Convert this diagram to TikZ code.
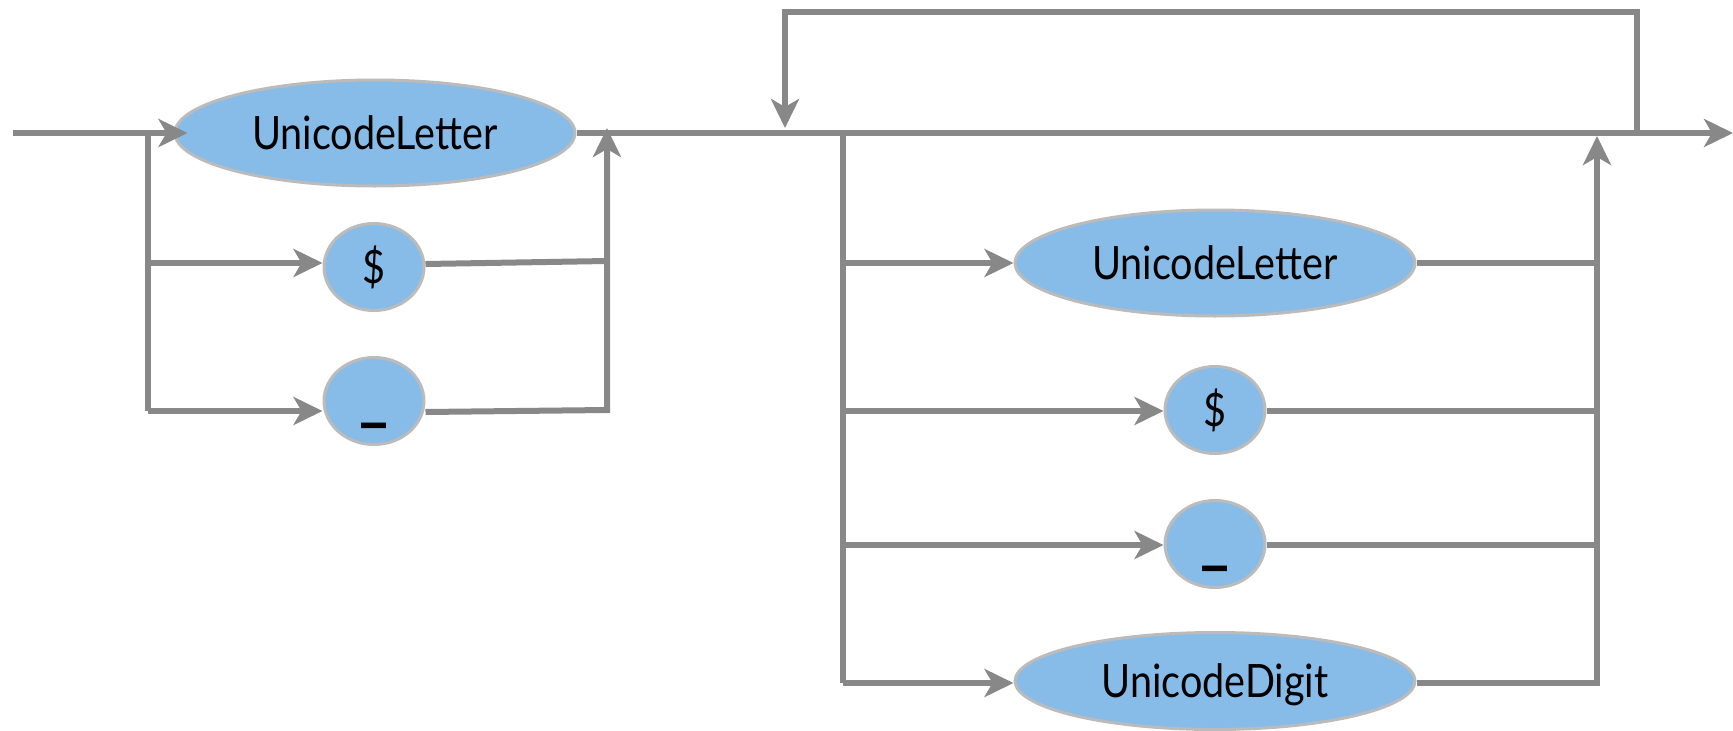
\documentclass[tikz,border=0pt]{standalone}
\usepackage{fontspec}
\setmainfont[FakeStretch=0.86]{Lato}
\usetikzlibrary{shapes.geometric,arrows.meta}
\definecolor{linegray}{HTML}{888888}
\definecolor{bordergray}{HTML}{BBBBBB}
\definecolor{fillblue}{HTML}{88BCE8}
\newcommand{\wideunderscore}{\raisebox{2pt}{\scalebox{1.6}[2]{\_}}}
\begin{document}
\begin{tikzpicture}[x=1pt,y=-1pt,
  term/.style={ellipse, draw=bordergray, line width=3pt, fill=fillblue, inner sep=0pt,
    font=\fontsize{46}{50}\selectfont, text height=33pt, text depth=0pt},
  wideterm/.style={term, minimum width=400pt, minimum height=106pt},
  smallterm/.style={term, minimum width=100pt, minimum height=87pt},
  conn/.style={draw=linegray, line width=6pt},
  arr/.style={conn, -{Stealth[length=29pt,width=28pt,inset=8pt]}}]
\useasboundingbox (0,0) rectangle (1733,731);
% nodes
\node[wideterm] (l1) at (375,133) {UnicodeLetter};
\node[smallterm] (d1) at (374,267) {\$};
\node[smallterm] (u1) at (374,401) {\wideunderscore};
\node[wideterm] (l2) at (1215,263) {UnicodeLetter};
\node[smallterm] (d2) at (1215,410) {\$};
\node[smallterm] (u2) at (1215,544) {\wideunderscore};
\node[wideterm, minimum height=97pt] (dg) at (1215,681) {UnicodeDigit};
% coordinates
\coordinate (start) at (13,133);
\coordinate (s1) at (148,133);
\coordinate (s1d) at (148,263);
\coordinate (s1b) at (148,411);
\coordinate (j1) at (607,128);
\coordinate (j1d) at (607,261);
\coordinate (j1b) at (607,410);
\coordinate (lp1) at (785,128);
\coordinate (lp1t) at (785,11.5);
\coordinate (lp2t) at (1637,11.5);
\coordinate (lp2) at (1637,133);
\coordinate (s2) at (843,133);
\coordinate (s2l) at (843,263);
\coordinate (s2d) at (843,411);
\coordinate (s2u) at (843,545);
\coordinate (s2b) at (843,683);
\coordinate (j2) at (1597,136);
\coordinate (j2l) at (1597,263);
\coordinate (j2d) at (1597,411);
\coordinate (j2u) at (1597,545);
\coordinate (j2b) at (1597,683);
\coordinate (end) at (1733,133);
% left group
\draw[arr] (start) -- ([xshift=14pt]l1.west);
\draw[conn] (s1) -- (s1b);
\draw[arr] (s1d) -- (s1d -| d1.west);
\draw[arr] (s1b) -- (s1b -| u1.west);
\draw[conn] (d1.east |- 0,264) -- (j1d);
\draw[arr] (u1.east |- 0,412) -- (j1b) -- (j1);
% main line
\draw[arr] (l1.east) -- (end);
% loop
\draw[arr] (lp2) -- (lp2t) -- (lp1t) -- (lp1);
% right group
\draw[conn] (s2) -- (s2b);
\draw[arr] (s2l) -- (s2l -| l2.west);
\draw[arr] (s2d) -- (s2d -| d2.west);
\draw[arr] (s2u) -- (s2u -| u2.west);
\draw[arr] (s2b) -- (s2b -| dg.west);
\draw[conn] (l2.east |- j2l) -- (j2l);
\draw[conn] (d2.east |- j2d) -- (j2d);
\draw[conn] (u2.east |- j2u) -- (j2u);
\draw[arr] (dg.east |- j2b) -- (j2b) -- (j2);
\end{tikzpicture}
\end{document}
